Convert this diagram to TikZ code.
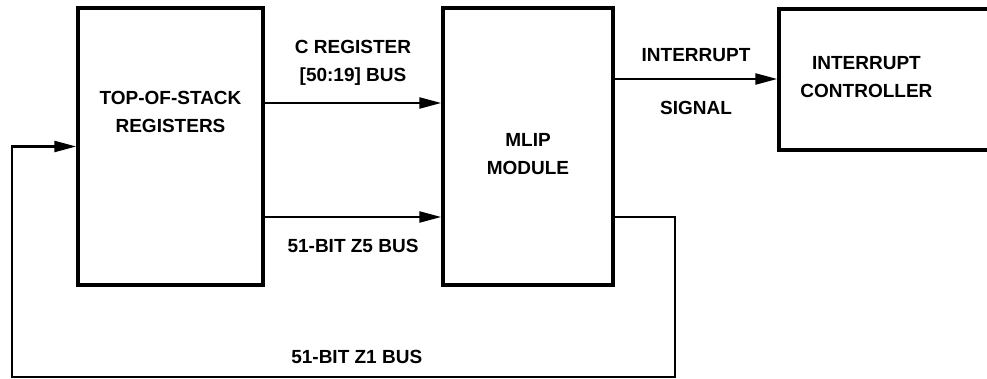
\documentclass[tikz,border=0pt]{standalone}
\usepackage{fontspec}
\setsansfont{Liberation Sans}
\usetikzlibrary{arrows.meta, positioning}

\begin{document}
\begin{tikzpicture}[x=1pt, y=-1pt, >={Triangle[length=22pt, width=11pt]},
		every node/.style={font=\sffamily\bfseries\fontsize{19}{28}\selectfont, inner sep=0pt, align=center},
		block/.style={draw, rectangle, line width=3.5pt},
		bus/.style={line width=2.5pt}]
		
		% Area del disegno
		\useasboundingbox (0,0) rectangle (987,379);
		\clip (0,0) rectangle (987,379);
		
		% Blocchi
		\node[block, minimum width=185pt, minimum height=277pt] (tos)  at (170.5,146.5) {};
		\node[block, minimum width=170pt, minimum height=277pt] (mlip) at (528,146.5) {};
		\node[block, minimum width=230pt, minimum height=141pt] (ctrl) at (894,79.5) {};
		
		% Testi dei blocchi
		\node[below=85pt of tos.north]  (tos_txt)  {TOP-OF-STACK\\REGISTERS};
		\node[below=127pt of mlip.north] (mlip_txt) {MLIP\\MODULE};
		\node[below right=49pt and 23pt of ctrl.north west] (ctrl_txt) {INTERRUPT\\CONTROLLER};
		
		% Livelli dei bus
		\coordinate (creg_y) at (0,103);
		\coordinate (z5_y)   at (0,217);
		\coordinate (int_y)  at (0,79);
		\coordinate (fb_right) at (675,377);
		\coordinate (fb_left)  at (12,377);
		
		% Bus C register e Z5
		\draw[bus, ->] (tos.east |- creg_y) -- (mlip.west |- creg_y)
			node[midway, above=16pt] (creg_lbl) {C REGISTER\\{[50:19]} BUS};
		\draw[bus, ->] (tos.east |- z5_y) -- (mlip.west |- z5_y)
			node[midway, below=21pt] (z5_lbl) {51-BIT Z5 BUS};
		
		% Segnale di interrupt
		\draw[bus, ->] (mlip.east |- int_y) -- (ctrl.west |- int_y)
			node[midway, above=16pt] (int_lbl) {INTERRUPT}
			node[midway, below=21pt] (sig_lbl) {SIGNAL};
		
		% Bus Z1 di ritorno
		\draw[bus, ->] (mlip.east |- z5_y) -| (fb_right) -- (fb_left)
			node[pos=0.48, above=12pt] (z1_lbl) {51-BIT Z1 BUS}
			|- (tos.west);
		
	\end{tikzpicture}
\end{document}
